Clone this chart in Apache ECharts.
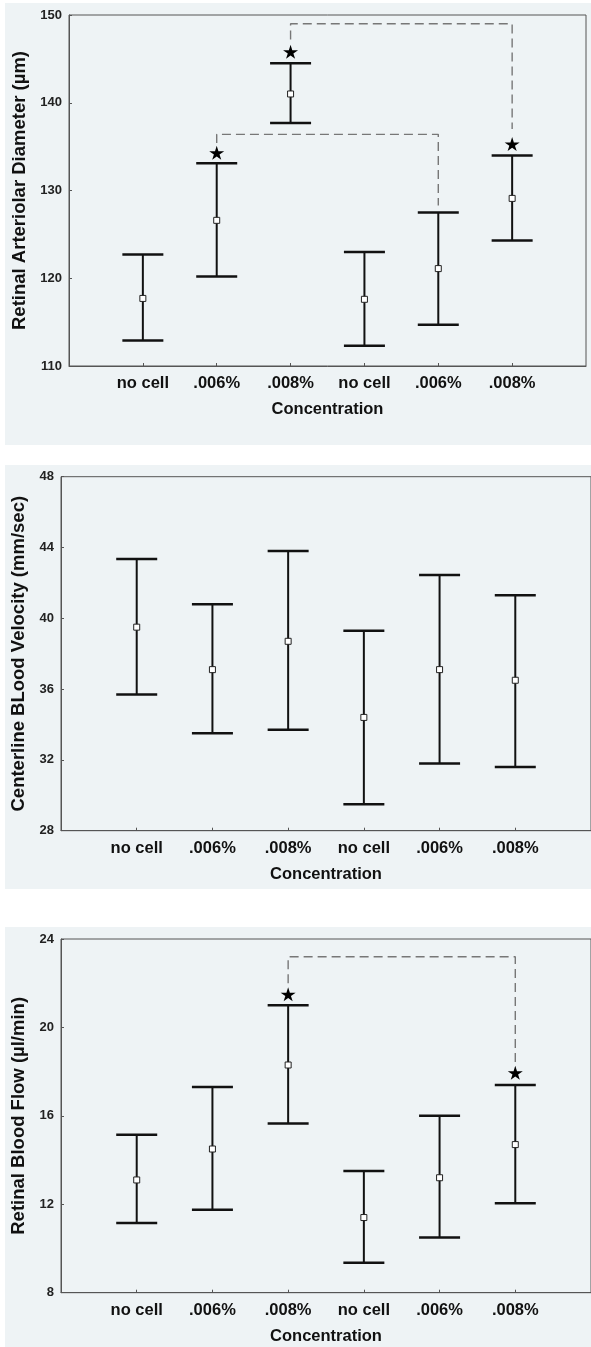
<!DOCTYPE html>
<html>
<head>
<meta charset="utf-8">
<script src="https://cdn.jsdelivr.net/npm/echarts@6/dist/echarts.min.js"></script>
<style>
html,body{margin:0;padding:0;background:#ffffff;}
#chart{width:591px;height:1347px;}
</style>
</head>
<body>
<div id="chart"></div>
<script>
// ---- data ----
const categories = ['no cell', '.006%', '.008%', 'no cell', '.006%', '.008%'];
const xTickValues = [0, 1, 2, 3, 4, 5];

const diameterMean = [117.7, 126.6, 141.0, 117.6, 121.1, 129.1];
const diameterLow  = [112.9, 120.2, 137.7, 112.3, 114.7, 124.3];
const diameterHigh = [122.7, 133.1, 144.5, 123.0, 127.5, 134.0];
const diameterStarX = [1, 2, 5];
const diameterStarY = [134.3, 145.8, 135.3];
const diameterBracketA = [[1, 135.4], [1, 136.4], [4, 136.4], [4, 128.3]];
const diameterBracketB = [[2, 147.2], [2, 149.0], [5, 149.0], [5, 137.0]];
const diameterTicks = [110, 120, 130, 140, 150];

const velocityMean = [39.5, 37.1, 38.7, 34.4, 37.1, 36.5];
const velocityLow  = [35.7, 33.5, 33.7, 29.5, 31.8, 31.6];
const velocityHigh = [43.35, 40.8, 43.8, 39.3, 42.45, 41.3];
const velocityTicks = [28, 32, 36, 40, 44, 48];

const flowMean = [13.1, 14.5, 18.3, 11.4, 13.2, 14.7];
const flowLow  = [11.15, 11.75, 15.65, 9.35, 10.5, 12.05];
const flowHigh = [15.15, 17.3, 21.0, 13.5, 16.0, 17.4];
const flowStarX = [2, 5];
const flowStarY = [21.5, 17.95];
const flowBracket = [[2, 22.0], [2, 23.2], [5, 23.2], [5, 18.2]];
const flowTicks = [8, 12, 16, 20, 24];

const yNames = ['Retinal Arteriolar Diameter (µm)', 'Centerline BLood Velocity (mm/sec)', 'Retinal Blood Flow (µl/min)'];
const xName = 'Concentration';

// ---- chart ----
const FONT = '"Liberation Sans", Arial, sans-serif';
const BG = '#eef3f5';
const AX = '#555555';
const STAR = 'path://M50,0 L61,35 L98,35 L68,57 L79,91 L50,70 L21,91 L32,57 L2,35 L39,35 Z';

const chart = echarts.init(document.getElementById('chart'), null, {renderer: 'canvas'});

const grids = [
  {left: 69, top: 15, width: 517, height: 351},
  {left: 61, top: 476.7, width: 536, height: 354},
  {left: 61, top: 939, width: 536, height: 353.7}
].map(g => Object.assign(g, {show: true, borderColor: AX, borderWidth: 1, backgroundColor: 'transparent'}));

function xAxis(i) {
  return {
    type: 'value', gridIndex: i, min: -1, max: 6, interval: 1,
    name: xName, nameLocation: 'middle', nameGap: 35,
    nameTextStyle: {fontFamily: FONT, fontWeight: 'bold', fontSize: 16.5, color: '#111'},
    axisLine: {show: true, onZero: false, lineStyle: {color: AX, width: 1}},
    axisTick: {show: true, inside: true, length: 3, lineStyle: {color: AX},
               customValues: xTickValues},
    axisLabel: {show: true, margin: 9, fontFamily: FONT, fontWeight: 'bold', fontSize: 16.5, color: '#111',
                customValues: xTickValues,
                formatter: v => (v >= 0 && v < categories.length && Math.round(v) === v) ? categories[v] : ''},
    splitLine: {show: false}
  };
}
function yAxis(i, min, max, interval, gap) {
  return {
    type: 'value', gridIndex: i, min: min, max: max, interval: interval,
    name: yNames[i], nameLocation: 'middle', nameGap: gap, nameRotate: 90,
    nameTextStyle: {fontFamily: FONT, fontWeight: 'bold', fontSize: 18.5, color: '#111'},
    axisLine: {show: true, onZero: false, lineStyle: {color: AX, width: 1}},
    axisTick: {show: true, inside: true, length: 3, lineStyle: {color: AX}},
    axisLabel: {show: true, margin: 7, fontFamily: FONT, fontWeight: 'bold', fontSize: 13, color: '#222'},
    splitLine: {show: false}
  };
}

function errorSeries(i, low, high) {
  return {
    type: 'custom', xAxisIndex: i, yAxisIndex: i, z: 3,
    data: low.map((l, k) => [k, l, high[k]]),
    renderItem: function (params, api) {
      const x = api.value(0);
      const lo = api.coord([x, api.value(1)]);
      const hi = api.coord([x, api.value(2)]);
      const h = 20.5;
      const s = {stroke: '#111', lineWidth: 2};
      const c = {stroke: '#111', lineWidth: 2.5};
      return {type: 'group', children: [
        {type: 'line', shape: {x1: hi[0], y1: hi[1], x2: lo[0], y2: lo[1]}, style: s},
        {type: 'line', shape: {x1: hi[0] - h, y1: hi[1], x2: hi[0] + h, y2: hi[1]}, style: c},
        {type: 'line', shape: {x1: lo[0] - h, y1: lo[1], x2: lo[0] + h, y2: lo[1]}, style: c}
      ]};
    }
  };
}
function meanSeries(i, mean) {
  return {
    type: 'scatter', xAxisIndex: i, yAxisIndex: i, z: 5,
    symbol: 'rect', symbolSize: 6,
    itemStyle: {color: '#ffffff', borderColor: '#222', borderWidth: 1, opacity: 1},
    data: mean.map((m, k) => [k, m]),
    emphasis: {disabled: true}
  };
}
function starSeries(i, xs, ys) {
  return {
    type: 'scatter', xAxisIndex: i, yAxisIndex: i, z: 5,
    symbol: STAR, symbolSize: [15, 14],
    itemStyle: {color: '#000000', opacity: 1},
    data: xs.map((x, k) => [x, ys[k]]),
    emphasis: {disabled: true}
  };
}
function bracketSeries(i, pts) {
  return {
    type: 'line', xAxisIndex: i, yAxisIndex: i, z: 2,
    data: pts, showSymbol: false, symbol: 'none', silent: true,
    lineStyle: {color: '#777', width: 1.4, type: [9, 5]}
  };
}

const option = {
  backgroundColor: '#ffffff',
  animation: false,
  graphic: [
    {type: 'rect', z: -10, shape: {x: 5, y: 3, width: 586, height: 442}, style: {fill: BG}},
    {type: 'rect', z: -10, shape: {x: 5, y: 465, width: 586, height: 424}, style: {fill: BG}},
    {type: 'rect', z: -10, shape: {x: 5, y: 927, width: 586, height: 420}, style: {fill: BG}}
  ],
  grid: grids,
  xAxis: [xAxis(0), xAxis(1), xAxis(2)],
  yAxis: [
    yAxis(0, diameterTicks[0], diameterTicks[diameterTicks.length - 1], 10, 37),
    yAxis(1, velocityTicks[0], velocityTicks[velocityTicks.length - 1], 4, 30),
    yAxis(2, flowTicks[0], flowTicks[flowTicks.length - 1], 4, 30)
  ],
  series: [
    errorSeries(0, diameterLow, diameterHigh),
    meanSeries(0, diameterMean),
    starSeries(0, diameterStarX, diameterStarY),
    bracketSeries(0, diameterBracketA),
    bracketSeries(0, diameterBracketB),

    errorSeries(1, velocityLow, velocityHigh),
    meanSeries(1, velocityMean),

    errorSeries(2, flowLow, flowHigh),
    meanSeries(2, flowMean),
    starSeries(2, flowStarX, flowStarY),
    bracketSeries(2, flowBracket)
  ]
};
chart.setOption(option);
</script>
</body>
</html>
